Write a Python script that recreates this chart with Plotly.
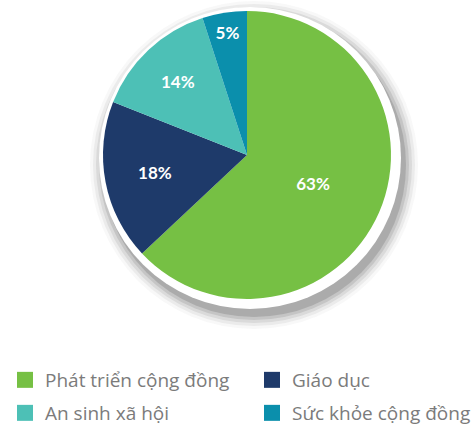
import plotly.graph_objects as go

categories = ["Phát triển cộng đồng", "Giáo dục", "An sinh xã hội", "Sức khỏe cộng đồng"]
values = [63, 18, 14, 5]
colors = ["#76c044", "#1e3a6a", "#4dc0b6", "#0b8fac"]

W, H = 472, 428
cx, cy, R = 247, 155, 144

fig = go.Figure()

fig.add_trace(go.Pie(
    labels=categories, values=values, sort=False, direction="clockwise", rotation=0,
    marker=dict(colors=colors, line=dict(width=0)),
    texttemplate="%{value}%", textposition="inside", insidetextorientation="horizontal",
    textfont=dict(family="Lato", size=17, color="white", weight="bold"),
    showlegend=False, hoverinfo="label+percent",
    domain=dict(x=[(cx - R) / W, (cx + R) / W], y=[(H - cy - R) / H, (H - cy + R) / H]),
))

def px(x):
    return x / W

def py(y):
    return 1 - y / H

shapes = []
# soft shadow layers
for r, op in [(164, 0.04), (161, 0.07), (158, 0.10), (155, 0.14), (152, 0.20)]:
    ox, oy = 254, 165
    shapes.append(dict(type="circle", xref="paper", yref="paper", layer="below",
                       x0=px(ox - r), x1=px(ox + r), y0=py(oy + r), y1=py(oy - r),
                       fillcolor=f"rgba(70,70,70,{op})", line=dict(width=0)))
# white ring
rw = 151
shapes.append(dict(type="circle", xref="paper", yref="paper", layer="below",
                   x0=px(cx + 3 - rw), x1=px(cx + 3 + rw), y0=py(cy + 3 + rw), y1=py(cy + 3 - rw),
                   fillcolor="white", line=dict(width=0)))

# legend via marker-only entries, one legend per position
legend_ids = ["legend", "legend2", "legend3", "legend4"]
legend_pos = [(5, 380), (252, 380), (5, 413), (252, 413)]
for name, col, lg in zip(categories, colors, legend_ids):
    fig.add_trace(go.Scatter(x=[None], y=[None], mode="markers", name=name,
                             marker=dict(symbol="square", size=16, color=col),
                             legend=lg, hoverinfo="skip"))

legfont = dict(family="Open Sans", size=19, color="#7b7b7b")
layout_legends = {}
for lg, (lx, ly) in zip(legend_ids, legend_pos):
    layout_legends[lg] = dict(orientation="h", x=px(lx), y=py(ly), xanchor="left", yanchor="middle",
                              font=legfont, itemsizing="trace", bgcolor="rgba(0,0,0,0)",
                              borderwidth=0)

fig.update_layout(
    width=W, height=H, margin=dict(l=0, r=0, t=0, b=0, autoexpand=False),
    paper_bgcolor="white", plot_bgcolor="white",
    xaxis=dict(visible=False), yaxis=dict(visible=False),
    shapes=shapes,
    **layout_legends,
)

fig.write_html("out.html", config={"displayModeBar": False},
               post_script="document.body.style.margin='0';document.body.style.overflow='hidden';")
